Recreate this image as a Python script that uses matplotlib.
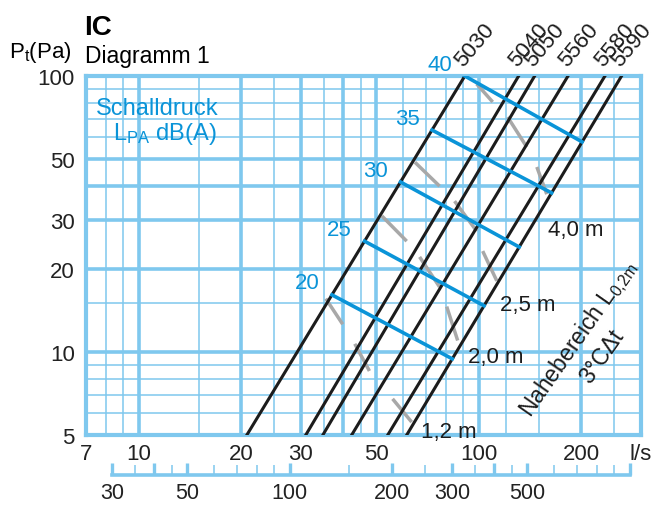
import numpy as np
import matplotlib
matplotlib.use('Agg')
import matplotlib.pyplot as plt
from matplotlib.ticker import FixedLocator, FixedFormatter, NullFormatter

plt.rcParams['font.family'] = ['Liberation Sans', 'DejaVu Sans']
plt.rcParams['mathtext.fontset'] = 'custom'
plt.rcParams['mathtext.rm'] = 'Liberation Sans'
plt.rcParams['mathtext.it'] = 'Liberation Sans:italic'

# fan models: flow (l/s) where each system line hits 100 Pa and 5 Pa
models = ['5030', '5040', '5050', '5560', '5580', '5590']
q_at_100 = [91, 131, 146, 183, 235, 263]
q_at_5 = [20.8, 31.0, 34.8, 42.3, 54.0, 61.4]

# sound pressure lines, pressure where they meet 5030 and 5590
levels = [20, 25, 30, 35, 40]
p_level_start = [16.1, 25.2, 41.3, 63.7, 100]
p_level_end = [9.44, 14.7, 24.0, 37.7, 57.7]

# near zone (grey dashes), each dash as (q0, p0, q1, p1)
near_labels = ['4,0 m', '2,5 m', '2,0 m', '1,2 m']
near_dashes = [
    [(98.6, 93.6, 109.9, 80.5), (121.6, 71.0, 138.4, 55.3), (148.2, 46.8, 158.5, 37.3)],
    [(64.9, 48.7, 76.7, 39.9), (84.9, 35.2, 98.6, 27.4), (102.7, 23.2, 113.0, 18.1)],
    [(51.9, 31.1, 61.4, 25.2), (67.0, 22.1, 76.7, 17.2), (80.5, 14.6, 86.7, 11.0)],
    [(35.5, 15.6, 39.8, 12.6), (43.2, 10.7, 47.7, 8.53), (55.8, 6.76, 63.5, 5.57)],
]
near_label_q = [159.6, 115.3, 92.8, 67.5]
near_label_p = [27.7, 14.9, 9.6, 5.13]

# grid
x_grid_major = [10, 20, 30, 40, 50, 100, 200]
x_grid_minor = [8, 9, 15, 25, 35, 45, 60, 70, 80, 90, 120, 150, 250]
y_grid_major = [10, 20, 30, 40, 50]
y_grid_minor = [6, 7, 8, 9, 15, 60, 70, 80, 90]
x_ticks = [7, 10, 20, 30, 50, 100, 200, 300]
x_ticklabels = ['7', '10', '20', '30', '50', '100', '200', 'l/s']
y_ticks = [5, 10, 20, 30, 50, 100]

# second scale in m3/h
m3h_major = [30, 40, 50, 100, 200, 300, 400, 500, 1000]
m3h_labels = ['30', '', '50', '100', '200', '300', '', '500', '']
m3h_minor = [35, 45, 60, 70, 80, 90, 150, 250, 350, 450, 600, 700, 800, 900]

grid_c = '#7fc8ee'
blue = '#0a94d8'
grey = '#a8a8a8'
black = '#1c1c1c'


def q_on_line(i, p):
    lq5, lq100 = np.log10(q_at_5[i]), np.log10(q_at_100[i])
    t = (np.log10(p) - np.log10(5)) / (np.log10(100) - np.log10(5))
    return 10 ** (lq5 + t * (lq100 - lq5))


fig = plt.figure(figsize=(6.62, 5.06), dpi=100)
W, H = 662, 506
ax = fig.add_axes([86 / W, 1 - 436 / H, (641 - 86) / W, (436 - 77) / H])
ax.set_xscale('log')
ax.set_yscale('log')
ax.set_xlim(7, 300)
ax.set_ylim(5, 100)

for v in x_grid_major:
    ax.axvline(v, color=grid_c, lw=2.6, zorder=1)
for v in x_grid_minor:
    ax.axvline(v, color=grid_c, lw=1.1, zorder=1)
for v in y_grid_major:
    ax.axhline(v, color=grid_c, lw=2.6, zorder=1)
for v in y_grid_minor:
    ax.axhline(v, color=grid_c, lw=1.1, zorder=1)
for s in ax.spines.values():
    s.set_color(grid_c)
    s.set_linewidth(3)

ax.xaxis.set_major_locator(FixedLocator(x_ticks))
ax.xaxis.set_major_formatter(FixedFormatter(x_ticklabels))
ax.xaxis.set_minor_formatter(NullFormatter())
ax.yaxis.set_major_locator(FixedLocator(y_ticks))
ax.yaxis.set_major_formatter(FixedFormatter([str(v) for v in y_ticks]))
ax.yaxis.set_minor_formatter(NullFormatter())
ax.tick_params(which='both', length=0, labelsize=16, colors='#222222')
ax.tick_params(axis='x', pad=6)
ax.tick_params(axis='y', pad=8)

# grey near-zone dashes
for dashes in near_dashes:
    for q0, p0, q1, p1 in dashes:
        ax.plot([q0, q1], [p0, p1], color=grey, lw=2.5, solid_capstyle='butt', zorder=2)

# fan system lines
for i, m in enumerate(models):
    ax.plot([q_at_5[i], q_at_100[i]], [5, 100], color=black, lw=2.2, zorder=3)
    ax.annotate(m, xy=(q_at_100[i], 100), xytext=(-1, 6.5), textcoords='offset points',
                rotation=50, rotation_mode='anchor', ha='left', va='baseline',
                fontsize=16, color=black, annotation_clip=False)

# sound level lines
for lvl, ps, pe in zip(levels, p_level_start, p_level_end):
    qs, qe = q_on_line(0, ps), q_on_line(5, pe)
    ax.plot([qs, qe], [ps, pe], color=blue, lw=2.6, zorder=4)
    ax.annotate(str(lvl), xy=(qs, ps), xytext=(-9, 1), textcoords='offset points',
                ha='right', va='bottom', fontsize=16, color=blue, annotation_clip=False)

for lab, q, p in zip(near_labels, near_label_q, near_label_p):
    ax.text(q, p, lab, ha='left', va='center', fontsize=16, color=black, zorder=5)

ax.text(142.2, 5.81, r'Nahebereich L$_{0{,}2\mathrm{m}}$', rotation=55,
        rotation_mode='anchor', ha='left', va='baseline', fontsize=16.5, color=black)
ax.text(212, 7.66, '3°CΔt', rotation=55, rotation_mode='anchor',
        ha='left', va='baseline', fontsize=16.5, color=black)

fig.text(96 / W, 1 - 115 / H, 'Schalldruck', fontsize=17, color=blue, va='baseline')
fig.text(113 / W, 1 - 140 / H, r'L$_{\mathrm{PA}}$ dB(A)', fontsize=17, color=blue,
         va='baseline')

fig.text(84 / W, 1 - 35 / H, 'IC', fontsize=20, fontweight='bold', va='baseline')
fig.text(85 / W, 1 - 63 / H, 'Diagramm 1', fontsize=16.5, va='baseline')
fig.text(9 / W, 1 - 58 / H, r'P$_{\mathrm{t}}$(Pa)', fontsize=16, va='baseline')

# m3/h scale
ax2 = fig.add_axes([86 / W, 1 - 476 / H, (641 - 86) / W, 0.0001])
ax2.set_xscale('log')
ax2.set_xlim(7 * 3.6, 300 * 3.6)
ax2.set_yticks([])
for k in ['top', 'left', 'right']:
    ax2.spines[k].set_visible(False)
ax2.spines['bottom'].set_color(grid_c)
ax2.spines['bottom'].set_linewidth(2.6)
ax2.spines['bottom'].set_bounds(30, 1000)
ax2.patch.set_alpha(0)
ax2.xaxis.set_major_locator(FixedLocator(m3h_major))
ax2.xaxis.set_major_formatter(FixedFormatter(m3h_labels))
ax2.xaxis.set_minor_locator(FixedLocator(m3h_minor))
ax2.xaxis.set_minor_formatter(NullFormatter())
ax2.tick_params(which='major', direction='in', length=9, width=2.4, color=grid_c,
                labelsize=15.5, labelcolor='#222222', pad=5)
ax2.tick_params(which='minor', direction='in', length=7, width=1.1, color=grid_c)

fig.savefig('out.png', dpi=100)
